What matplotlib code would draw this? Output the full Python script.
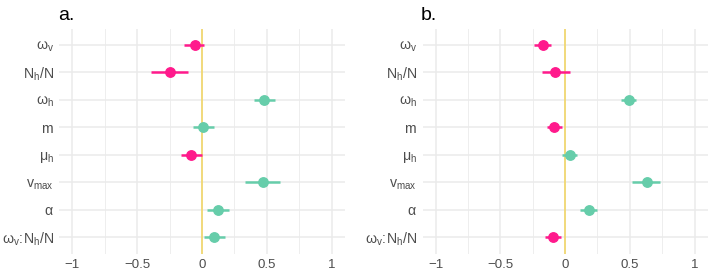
"""
Coefficient (dot + interval) plots for two model fits, panels a. and b.
"""
import matplotlib.pyplot as plt
import numpy as np

plt.rcParams['font.family'] = ['Liberation Sans', 'DejaVu Sans']
plt.rcParams['mathtext.fontset'] = 'custom'
plt.rcParams['mathtext.rm'] = 'Liberation Sans'
plt.rcParams['mathtext.it'] = 'Liberation Sans:italic'
plt.rcParams['mathtext.default'] = 'regular'

# parameter labels, top to bottom
terms = [r'$\omega_v$', r'$N_h/N$', r'$\omega_h$', r'$m$', r'$\mu_h$',
         r'$v_{max}$', r'$\alpha$', r'$\omega_v\!:\!N_h/N$']

# panel a: estimate, lower, upper
est_a = [-0.056, -0.25, 0.48, 0.01, -0.085, 0.47, 0.12, 0.095]
lo_a = [-0.137, -0.39, 0.40, -0.07, -0.16, 0.33, 0.036, 0.015]
hi_a = [0.018, -0.11, 0.56, 0.09, 0.0, 0.60, 0.21, 0.18]

# panel b
est_b = [-0.17, -0.075, 0.49, -0.085, 0.036, 0.63, 0.185, -0.095]
lo_b = [-0.24, -0.18, 0.43, -0.14, -0.025, 0.52, 0.116, -0.155]
hi_b = [-0.11, 0.04, 0.55, -0.02, 0.095, 0.73, 0.247, -0.033]

panels = ['a.', 'b.']
xticks = [-1, -0.5, 0, 0.5, 1]
xticklabels = ['\u22121', '\u22120.5', '0', '0.5', '1']

col_neg = '#FF1A8C'
col_pos = '#66CDAA'
col_zero = '#F2D45C'
col_grid = '#EBEBEB'
col_text = '#4D4D4D'


def coef_panel(ax, est, lo, hi, title):
    y = np.arange(len(terms))[::-1]
    ax.set_xlim(-1.1, 1.1)
    ax.set_ylim(-0.6, len(terms) - 0.4)

    ax.set_xticks(xticks)
    ax.set_xticklabels(xticklabels)
    ax.set_xticks([-0.75, -0.25, 0.25, 0.75], minor=True)
    ax.set_yticks(y)
    ax.set_yticklabels(terms)

    ax.grid(True, which='major', color=col_grid, linewidth=1.1)
    ax.grid(True, which='minor', axis='x', color=col_grid, linewidth=0.6)
    ax.set_axisbelow(True)
    for s in ax.spines.values():
        s.set_visible(False)
    ax.tick_params(which='both', length=0, colors=col_text)
    ax.tick_params(axis='x', pad=4, labelsize=9.5)
    ax.tick_params(axis='y', pad=4, labelsize=10.2)

    ax.axvline(0, color=col_zero, linewidth=1.1, zorder=1.5)

    for yi, e, l, h in zip(y, est, lo, hi):
        c = col_neg if e < 0 else col_pos
        ax.plot([l, h], [yi, yi], color=c, linewidth=1.8, solid_capstyle='butt', zorder=3)
        ax.plot(e, yi, 'o', color=c, markersize=6.8, zorder=4)

    ax.set_title(title, loc='left', fontsize=14, color='black', pad=6, x=-0.005)


fig = plt.figure(figsize=(7.09, 2.75), dpi=100)
ax_a = fig.add_axes([0.0839, 0.078, 0.402, 0.818])
ax_b = fig.add_axes([0.596, 0.078, 0.402, 0.818])

coef_panel(ax_a, est_a, lo_a, hi_a, panels[0])
coef_panel(ax_b, est_b, lo_b, hi_b, panels[1])

fig.savefig('out.png', dpi=100)
plt.close(fig)
